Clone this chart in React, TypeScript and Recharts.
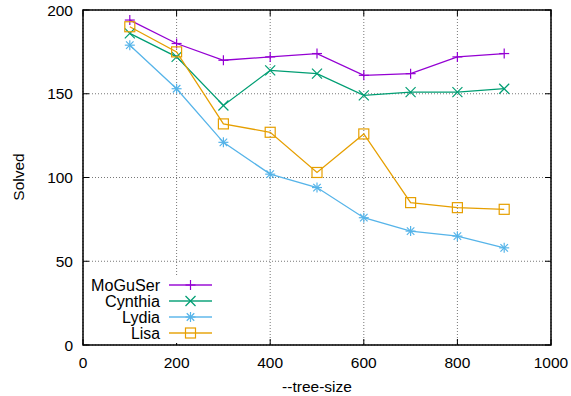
import React from "react";
import { CartesianGrid, Line, LineChart, ReferenceArea, XAxis, YAxis } from "recharts";

const treeSize = [100, 200, 300, 400, 500, 600, 700, 800, 900];
const moguser = [194, 180, 170, 172, 174, 161, 162, 172, 174];
const cynthia = [186, 172, 143, 164, 162, 149, 151, 151, 153];
const lydia = [179, 153, 121, 102, 94, 76, 68, 65, 58];
const lisa = [190, 175, 132, 127, 103, 126, 85, 82, 81];

const xTicks = [0, 200, 400, 600, 800, 1000];
const yTicks = [0, 50, 100, 150, 200];

const series = [
  { key: "moguser", name: "MoGuSer", color: "#9400d3", shape: "plus", w: 69 },
  { key: "cynthia", name: "Cynthia", color: "#009e73", shape: "cross", w: 55 },
  { key: "lydia", name: "Lydia", color: "#56b4e9", shape: "star", w: 38 },
  { key: "lisa", name: "Lisa", color: "#e69f00", shape: "square", w: 29 },
];

const data = treeSize.map((t, i) => ({
  t,
  moguser: moguser[i],
  cynthia: cynthia[i],
  lydia: lydia[i],
  lisa: lisa[i],
}));

const W = 571;
const H = 396;
const TOP = 10;
const BOTTOM = 345;
const LEFT = 83;
const RIGHT = 551;
const FONT = "'Liberation Sans', Arial, sans-serif";
const FS = 15.5;

function Marker({ cx, cy, shape, color }: { cx: number; cy: number; shape: string; color: string }) {
  const r = 5;
  const p = { stroke: color, strokeWidth: 1.2, fill: "none" };
  if (shape === "plus")
    return (
      <g {...p}>
        <line x1={cx - r} x2={cx + r} y1={cy} y2={cy} />
        <line x1={cx} x2={cx} y1={cy - r} y2={cy + r} />
      </g>
    );
  if (shape === "cross")
    return (
      <g {...p}>
        <line x1={cx - r} x2={cx + r} y1={cy - r} y2={cy + r} />
        <line x1={cx - r} x2={cx + r} y1={cy + r} y2={cy - r} />
      </g>
    );
  if (shape === "star")
    return (
      <g {...p}>
        <line x1={cx - r} x2={cx + r} y1={cy} y2={cy} />
        <line x1={cx} x2={cx} y1={cy - r} y2={cy + r} />
        <line x1={cx - r * 0.75} x2={cx + r * 0.75} y1={cy - r * 0.75} y2={cy + r * 0.75} />
        <line x1={cx - r * 0.75} x2={cx + r * 0.75} y1={cy + r * 0.75} y2={cy - r * 0.75} />
      </g>
    );
  return <rect x={cx - r} y={cy - r} width={2 * r} height={2 * r} {...p} />;
}

const XTick = (props: any) => {
  const { x, payload } = props;
  return (
    <g>
      <line x1={x} x2={x} y1={BOTTOM} y2={BOTTOM - 6} stroke="#000" strokeWidth={1} />
      <line x1={x} x2={x} y1={TOP} y2={TOP + 6} stroke="#000" strokeWidth={1} />
      <text x={x} y={BOTTOM + 17} textAnchor="middle" dominantBaseline="central" fontSize={FS} fontFamily={FONT} fill="#000">
        {payload.value}
      </text>
    </g>
  );
};

const YTick = (props: any) => {
  const { y, payload } = props;
  return (
    <g>
      <line x1={LEFT} x2={LEFT + 6} y1={y} y2={y} stroke="#000" strokeWidth={1} />
      <line x1={RIGHT} x2={RIGHT - 6} y1={y} y2={y} stroke="#000" strokeWidth={1} />
      <text x={LEFT - 10} y={y} textAnchor="end" dominantBaseline="central" fontSize={FS} fontFamily={FONT} fill="#000">
        {payload.value}
      </text>
    </g>
  );
};

// legend drawn as an svg overlay, gnuplot style (label right-aligned, then sample)
const LegendBox = () => (
  <svg width={132} height={66} style={{ position: "absolute", left: 85, top: 277 }}>
    <rect x={0} y={0} width={132} height={66} fill="#fff" />
    {series.map((s, i) => {
      const cy = 8 + i * 16;
      return (
        <g key={s.key}>
          <text
            x={75 - s.w}
            y={cy}
            dominantBaseline="central"
            fontSize={16}
            fontFamily={FONT}
            fill="#000"
            textLength={s.w}
            lengthAdjust="spacingAndGlyphs"
          >
            {s.name}
          </text>
          <line x1={84} x2={127} y1={cy} y2={cy} stroke={s.color} strokeOpacity={0.7} strokeWidth={2} />
          <Marker cx={105.5} cy={cy} shape={s.shape} color={s.color} />
        </g>
      );
    })}
  </svg>
);

export default function App() {
  return (
    <div style={{ position: "absolute", left: 0, top: 0, width: W, height: H, background: "#fff" }}>
      <LineChart width={W} height={H} data={data} margin={{ top: TOP, right: W - RIGHT, bottom: 0, left: 0 }}>
        <CartesianGrid stroke="#777" strokeDasharray="1 2" strokeWidth={1} />
        <XAxis
          dataKey="t"
          type="number"
          domain={[0, 1000]}
          ticks={xTicks}
          height={H - BOTTOM}
          axisLine={false}
          tickLine={false}
          tick={<XTick />}
          interval={0}
          label={() => (
            <text x={(LEFT + RIGHT) / 2} y={386} textAnchor="middle" dominantBaseline="central" fontSize={FS} fontFamily={FONT} fill="#000">
              --tree-size
            </text>
          )}
        />
        <YAxis
          type="number"
          domain={[0, 200]}
          ticks={yTicks}
          width={LEFT}
          axisLine={false}
          tickLine={false}
          tick={<YTick />}
          interval={0}
          label={() => (
            <text x={18} y={177} textAnchor="middle" dominantBaseline="central" fontSize={FS} fontFamily={FONT} fill="#000" transform="rotate(-90 18 177)">
              Solved
            </text>
          )}
        />
        {series.map((s) => (
          <Line
            key={s.key}
            dataKey={s.key}
            name={s.name}
            stroke={s.color}
            strokeWidth={1.3}
            isAnimationActive={false}
            activeDot={false}
            dot={(p: any) => <Marker key={`${s.key}-${p.index}`} cx={p.cx} cy={p.cy} shape={s.shape} color={s.color} />}
          />
        ))}
        <ReferenceArea x1={0} x2={1000} y1={0} y2={200} fill="none" stroke="#000" strokeWidth={1.5} fillOpacity={0} ifOverflow="visible" />
      </LineChart>
      <LegendBox />
    </div>
  );
}
